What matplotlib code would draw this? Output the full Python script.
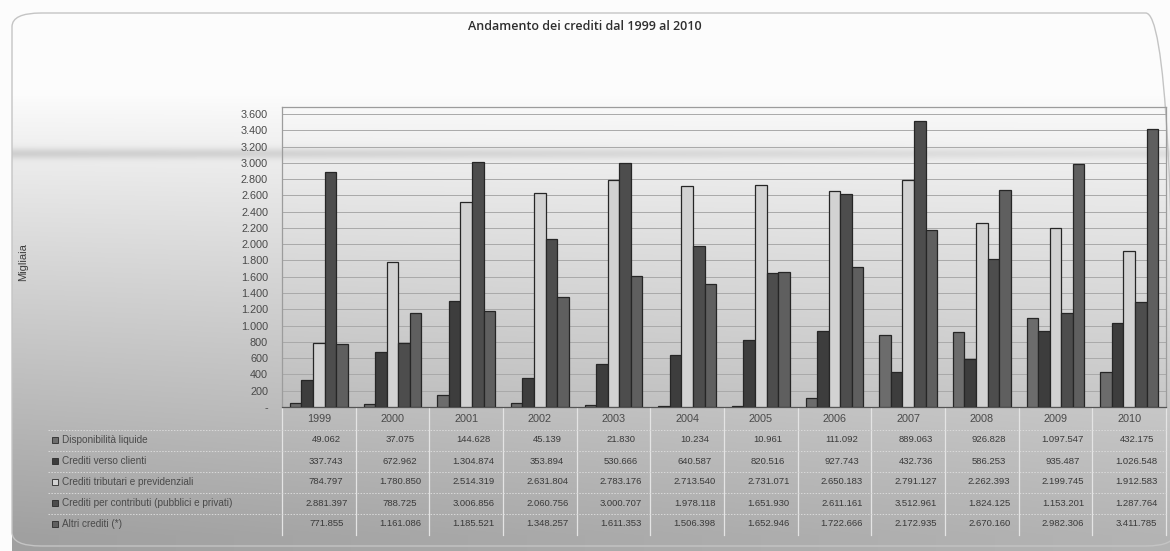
import numpy as np
import matplotlib
matplotlib.use("Agg")
import matplotlib.pyplot as plt
from matplotlib.transforms import blended_transform_factory
from matplotlib.patches import FancyBboxPatch, Rectangle

# ---------------- data ----------------
years = ["1999", "2000", "2001", "2002", "2003", "2004", "2005", "2006",
         "2007", "2008", "2009", "2010"]
series_names = ["Disponibilità liquide",
                "Crediti verso clienti",
                "Crediti tributari e previdenziali",
                "Crediti per contributi (pubblici e privati)",
                "Altri crediti (*)"]
disponibilita = [49062, 37075, 144628, 45139, 21830, 10234, 10961, 111092,
                 889063, 926828, 1097547, 432175]
clienti = [337743, 672962, 1304874, 353894, 530666, 640587, 820516, 927743,
           432736, 586253, 935487, 1026548]
tributari = [784797, 1780850, 2514319, 2631804, 2783176, 2713540, 2731071,
             2650183, 2791127, 2262393, 2199745, 1912583]
contributi = [2881397, 788725, 3006856, 2060756, 3000707, 1978118, 1651930,
              2611161, 3512961, 1824125, 1153201, 1287764]
altri = [771855, 1161086, 1185521, 1348257, 1611353, 1506398, 1652946,
         1722666, 2172935, 2670160, 2982306, 3411785]
y_ticks = [0, 200, 400, 600, 800, 1000, 1200, 1400, 1600, 1800, 2000, 2200,
           2400, 2600, 2800, 3000, 3200, 3400, 3600]
title = "Andamento dei crediti dal 1999 al 2010"
y_label = "Migliaia"

series = [disponibilita, clienti, tributari, contributi, altri]
colors = ["#6c6c6c", "#3d3d3d", "#d2d2d2", "#4d4d4d", "#5f5f5f"]

# ---------------- figure ----------------
W, H = 1170, 551
plt.rcParams['font.family'] = ['Liberation Sans', 'DejaVu Sans']
fig = plt.figure(figsize=(W / 100, H / 100), dpi=100)
fig.patch.set_facecolor("white")


def fx(px):
    return px / W


def fy(py):
    return 1 - py / H


# background gradient (scan-like)
bg_ax = fig.add_axes([0, 0, 1, 1], zorder=-5)
yy, xx = np.mgrid[0:H, 0:W]
t = np.clip((yy - 95) / 440.0, 0, 1)
g = 252 - 72 * t ** 0.9 - 20 * (1 - xx / W) * t
g -= (30 - 14 * xx / W) * np.exp(-((yy - 153) / 5.5) ** 2)
g[(yy < 13) | (xx < 12)] = 252
g = np.clip(g, 0, 255) / 255.0
bg_ax.imshow(np.dstack([g, g, g]), aspect="auto", extent=(0, W, H, 0),
             interpolation="bilinear")
bg_ax.set_xlim(0, W)
bg_ax.set_ylim(H, 0)
bg_ax.axis("off")

box = FancyBboxPatch((fx(12), fy(546)), fx(1175) - fx(12), fy(13) - fy(546),
                     boxstyle="round,pad=0,rounding_size=0.025",
                     transform=fig.transFigure, facecolor="none",
                     edgecolor="#c4c4c4", lw=1.0, zorder=-4)
fig.add_artist(box)

# ---------------- main axes ----------------
left_px, right_px, top_px, bot_px = 282, 1166, 107, 407
ax = fig.add_axes([fx(left_px), fy(bot_px), fx(right_px) - fx(left_px),
                   fy(top_px) - fy(bot_px)])
ax.set_facecolor("none")

n = len(years)
x = np.arange(n)
bw = 0.157
for i, (vals, col, name) in enumerate(zip(series, colors, series_names)):
    ax.bar(x + (i - 2) * bw, np.array(vals) / 1000.0, width=bw, color=col,
           edgecolor="#262626", linewidth=0.9, label=name, zorder=3)

ax.set_xlim(-0.5, n - 0.5)
ax.set_ylim(0, 3686)
ax.set_yticks(y_ticks)
ax.set_yticklabels(["-" if v == 0 else f"{v:,}".replace(",", ".")
                    for v in y_ticks], fontsize=7.8, color="#4a4a4a")
ax.tick_params(axis="y", length=0, pad=10)
ax.set_xticks(x)
ax.set_xticklabels(years, fontsize=7.8, color="#4a4a4a")
ax.tick_params(axis="x", length=0, pad=5)
ax.yaxis.grid(True, color="#a9a9a9", lw=0.7, zorder=0)
ax.set_axisbelow(True)
for s in ax.spines.values():
    s.set_color("#9c9c9c")
    s.set_linewidth(0.9)
ax.spines["bottom"].set_color("#555555")

# title & y label
fig.text(0.5, fy(26), title, ha="center", va="center", fontsize=9,
         family=["Open Sans", "DejaVu Sans"], fontweight="semibold",
         color="#2e2e2e")
fig.text(fx(23), fy(262), y_label, rotation=90, ha="center", va="center",
         fontsize=8, color="#3e3e3e")

# ---------------- data table ----------------
trans = blended_transform_factory(ax.transData, fig.transFigure)
row_y = [440, 461, 482, 503, 524]
row_edges = [430, 451, 472, 493, 514, 535]

# vertical separators
for k in range(n + 1):
    ax.plot([k - 0.5, k - 0.5], [fy(bot_px), fy(535)], transform=trans,
            color="#e4e4e4", lw=0.9, clip_on=False, zorder=2)
# horizontal separators
for e in row_edges[:-1]:
    fig.add_artist(plt.Line2D([fx(48), fx(right_px)], [fy(e), fy(e)],
                              transform=fig.transFigure, color="#dadada",
                              lw=0.7, ls=(0, (1.5, 1.5))))

for r, (vals, col, name) in enumerate(zip(series, colors, series_names)):
    yc = fy(row_y[r])
    fig.add_artist(Rectangle((fx(52), yc - 3.2 / H), 6.4 / W, 6.4 / H,
                             transform=fig.transFigure, facecolor=col,
                             edgecolor="#2a2a2a", lw=0.6))
    fig.text(fx(62), yc, name, ha="left", va="center", fontsize=7.2,
             color="#4a4a4a")
    for i, v in enumerate(vals):
        ax.text(i + 0.1, yc, f"{v:,}".replace(",", "."), transform=trans,
                ha="center", va="center", fontsize=6.8, color="#3a3a3a",
                clip_on=False)

fig.savefig("out.png", dpi=100, facecolor=fig.get_facecolor())
